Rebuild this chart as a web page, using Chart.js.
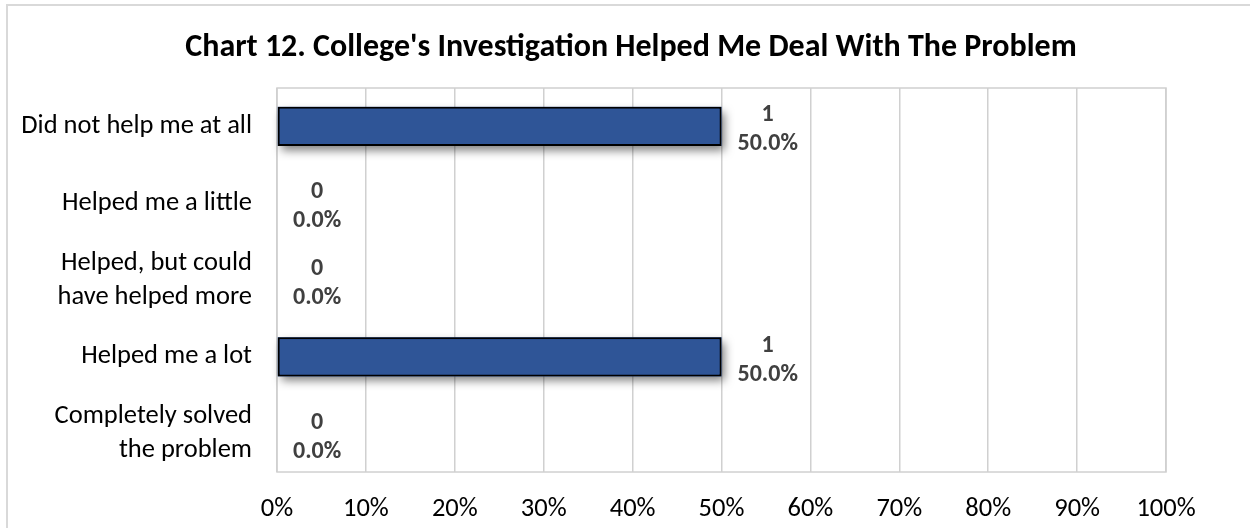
<!DOCTYPE html>
<html>
<head>
<meta charset="utf-8">
<title>College's Investigation Helped Me Deal With The Problem</title>
<script src="https://cdn.jsdelivr.net/npm/chart.js@4.4.1/dist/chart.umd.min.js"></script>
<style>
  html, body { margin: 0; padding: 0; background: #ffffff; }
  #wrap { position: relative; width: 1250px; height: 528px; overflow: hidden; }
</style>
</head>
<body>
<div id="wrap"><canvas id="chart" width="1250" height="528"></canvas></div>
<script>
// Survey responses, one entry per answer option (top to bottom)
const chartTitle = "Chart 12. College's Investigation Helped Me Deal With The Problem";
const categories = [
  'Did not help me at all',
  'Helped me a little',
  ['Helped, but could', 'have helped more'],
  'Helped me a lot',
  ['Completely solved', 'the problem']
];
const responseCounts = [1, 0, 0, 1, 0];
const responseShares = [50.0, 0.0, 0.0, 50.0, 0.0];
const shareTicks = [0, 10, 20, 30, 40, 50, 60, 70, 80, 90, 100];
const shareTickLabels = ['0%', '10%', '20%', '30%', '40%', '50%', '60%', '70%', '80%', '90%', '100%'];

const FONT = 'Carlito, Lato, "Open Sans", sans-serif';
const GRID = '#d0d0d0';

// Frame, bar shadow, value labels and heading
const decorations = {
  id: 'decorations',
  beforeDraw(chart) {
    const ctx = chart.ctx;
    ctx.save();
    ctx.strokeStyle = '#d9d9d9';
    ctx.lineWidth = 2;
    ctx.strokeRect(7, 5, 1300, 600);
    ctx.restore();
  },
  beforeDatasetsDraw(chart) {
    const ctx = chart.ctx;
    const a = chart.chartArea;
    ctx.save();
    ctx.strokeStyle = GRID;
    ctx.lineWidth = 1.5;
    ctx.strokeRect(a.left, a.top, a.right - a.left, a.bottom - a.top);
    ctx.restore();
    // soft drop shadow under each non-empty bar
    const meta = chart.getDatasetMeta(0);
    ctx.save();
    ctx.shadowColor = 'rgba(0,0,0,0.5)';
    ctx.shadowBlur = 9;
    ctx.shadowOffsetX = 3;
    ctx.shadowOffsetY = 5;
    ctx.fillStyle = '#2f5597';
    meta.data.forEach(bar => {
      const p = bar.getProps(['x', 'y', 'base', 'height'], true);
      const w = p.x - p.base;
      if (w > 0) ctx.fillRect(p.base, p.y - p.height / 2, w, p.height);
    });
    ctx.restore();
  },
  afterDatasetsDraw(chart) {
    const ctx = chart.ctx;
    const meta = chart.getDatasetMeta(0);
    ctx.save();
    ctx.font = 'bold 24px ' + FONT;
    ctx.fillStyle = '#404040';
    ctx.textAlign = 'center';
    ctx.textBaseline = 'middle';
    meta.data.forEach((bar, i) => {
      const lines = [String(responseCounts[i]), responseShares[i].toFixed(1) + '%'];
      const w = Math.max(...lines.map(t => ctx.measureText(t).width));
      const cx = bar.x + 16 + w / 2;
      ctx.fillText(lines[0], cx, bar.y - 11);
      ctx.fillText(lines[1], cx, bar.y + 18);
    });
    ctx.restore();
  },
  afterDraw(chart) {
    const ctx = chart.ctx;
    ctx.save();
    ctx.font = 'bold 32px ' + FONT;
    ctx.fillStyle = '#000000';
    ctx.textAlign = 'center';
    ctx.textBaseline = 'alphabetic';
    ctx.fillText(chartTitle, 631, 56);
    ctx.restore();
  }
};

new Chart(document.getElementById('chart'), {
  type: 'bar',
  data: {
    labels: categories,
    datasets: [{
      data: responseShares,
      backgroundColor: '#2f5597',
      borderColor: '#000000',
      borderWidth: c => (c.raw > 0 ? 2 : 0),
      borderSkipped: false,
      barPercentage: 0.51,
      categoryPercentage: 1.0
    }]
  },
  options: {
    indexAxis: 'y',
    responsive: false,
    animation: false,
    devicePixelRatio: 1,
    layout: { padding: { top: 88, right: 84, bottom: 0, left: 0 } },
    plugins: {
      legend: { display: false },
      title: { display: false },
      tooltip: { enabled: false }
    },
    scales: {
      x: {
        min: 0,
        max: 100,
        afterBuildTicks(scale) {
          scale.ticks = shareTicks.map(v => ({ value: v }));
        },
        afterFit(scale) { scale.height = 56; },
        grid: { color: GRID, lineWidth: 1.5, drawTicks: false },
        border: { display: false },
        ticks: {
          padding: 21,
          color: '#000000',
          font: { family: FONT, size: 26.5 },
          callback: (v) => shareTickLabels[shareTicks.indexOf(v)]
        }
      },
      y: {
        afterFit(scale) { scale.width = 277; },
        grid: { display: false, drawTicks: false },
        border: { display: false },
        ticks: {
          padding: 25,
          color: '#000000',
          font: { family: FONT, size: 26.5, lineHeight: 1.28 }
        }
      }
    }
  },
  plugins: [decorations]
});
</script>
</body>
</html>
